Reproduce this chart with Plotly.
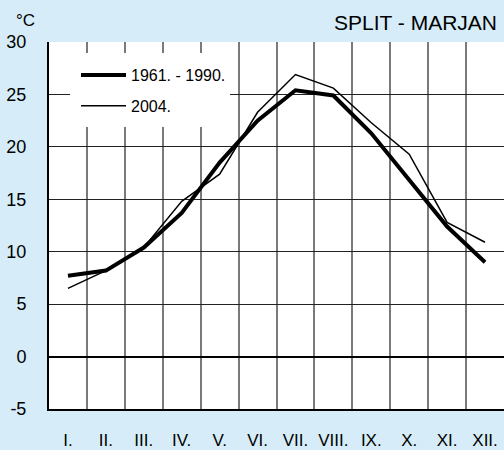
import plotly.graph_objects as go

# month labels and monthly mean air temperatures (°C), Split - Marjan
months = ["I.", "II.", "III.", "IV.", "V.", "VI.", "VII.", "VIII.", "IX.", "X.", "XI.", "XII."]
t_1961_1990 = [7.7, 8.2, 10.4, 13.7, 18.5, 22.5, 25.4, 24.9, 21.3, 16.9, 12.4, 9.0]
t_2004 = [6.5, 8.2, 10.4, 14.8, 17.4, 23.3, 26.9, 25.6, 22.3, 19.3, 12.8, 10.9]
y_ticks = [-5, 0, 5, 10, 15, 20, 25, 30]
y_labels = ["-5", "0", "5", "10", "15", "20", "25", "30"]

x = list(range(len(months)))
FONT = "Liberation Sans, Arial, sans-serif"

fig = go.Figure()
fig.add_trace(go.Scatter(x=x, y=t_1961_1990, mode="lines", name="1961. - 1990.",
                         legendgroup="a", line=dict(color="black", width=4)))
fig.add_trace(go.Scatter(x=x, y=t_2004, mode="lines", name="2004.",
                         legendgroup="b", line=dict(color="black", width=1.5)))

# white box behind the legend, hides the grid there
fig.add_shape(type="rect", xref="paper", yref="paper",
              x0=(70 - 49) / 455, x1=(230 - 49) / 455,
              y0=(409 - 127) / 367, y1=(409 - 53) / 367,
              fillcolor="white", line=dict(width=0), layer="above")

fig.add_annotation(text="SPLIT - MARJAN", xref="paper", yref="paper", x=0.988, y=1.0,
                   xanchor="right", yanchor="bottom", yshift=6, showarrow=False,
                   font=dict(size=21, color="black", family=FONT))
fig.add_annotation(text="°C", xref="paper", yref="paper", x=(25 - 49) / 455, y=1.0,
                   xanchor="center", yanchor="bottom", yshift=10, showarrow=False,
                   font=dict(size=17, color="black", family=FONT))

fig.update_layout(
    width=504, height=450,
    margin=dict(l=49, r=0, t=42, b=41),
    paper_bgcolor="#d6edf9", plot_bgcolor="white",
    font=dict(family=FONT, color="black"),
    showlegend=True,
    legend=dict(x=(76 - 49) / 455, y=(409 - 58) / 367, xanchor="left", yanchor="top",
                bgcolor="rgba(0,0,0,0)", font=dict(size=16, family=FONT),
                itemwidth=45, tracegroupgap=7),
)
fig.update_xaxes(range=[-0.5, 11.5], tickvals=x, ticktext=months, showgrid=False,
                 ticks="", ticklabelstandoff=15, tickfont=dict(size=17),
                 showline=True, linecolor="black", linewidth=2, mirror=False, zeroline=False,
                 minor=dict(tickvals=[i + 0.5 for i in range(-1, 12)], showgrid=True,
                            gridcolor="#7a7a7a", gridwidth=1.5, ticks=""),
                 fixedrange=True)
fig.update_yaxes(range=[-5, 30], tickvals=y_ticks, ticktext=y_labels,
                 showgrid=True, gridcolor="#222222", gridwidth=1,
                 zeroline=True, zerolinecolor="black", zerolinewidth=2,
                 showline=True, linecolor="black", linewidth=2,
                 ticks="", ticklabelstandoff=17, tickfont=dict(size=18), fixedrange=True)

fig.write_html("out.html", config={"displayModeBar": False},
               post_script="document.body.style.margin='0';document.body.style.overflow='hidden';")
